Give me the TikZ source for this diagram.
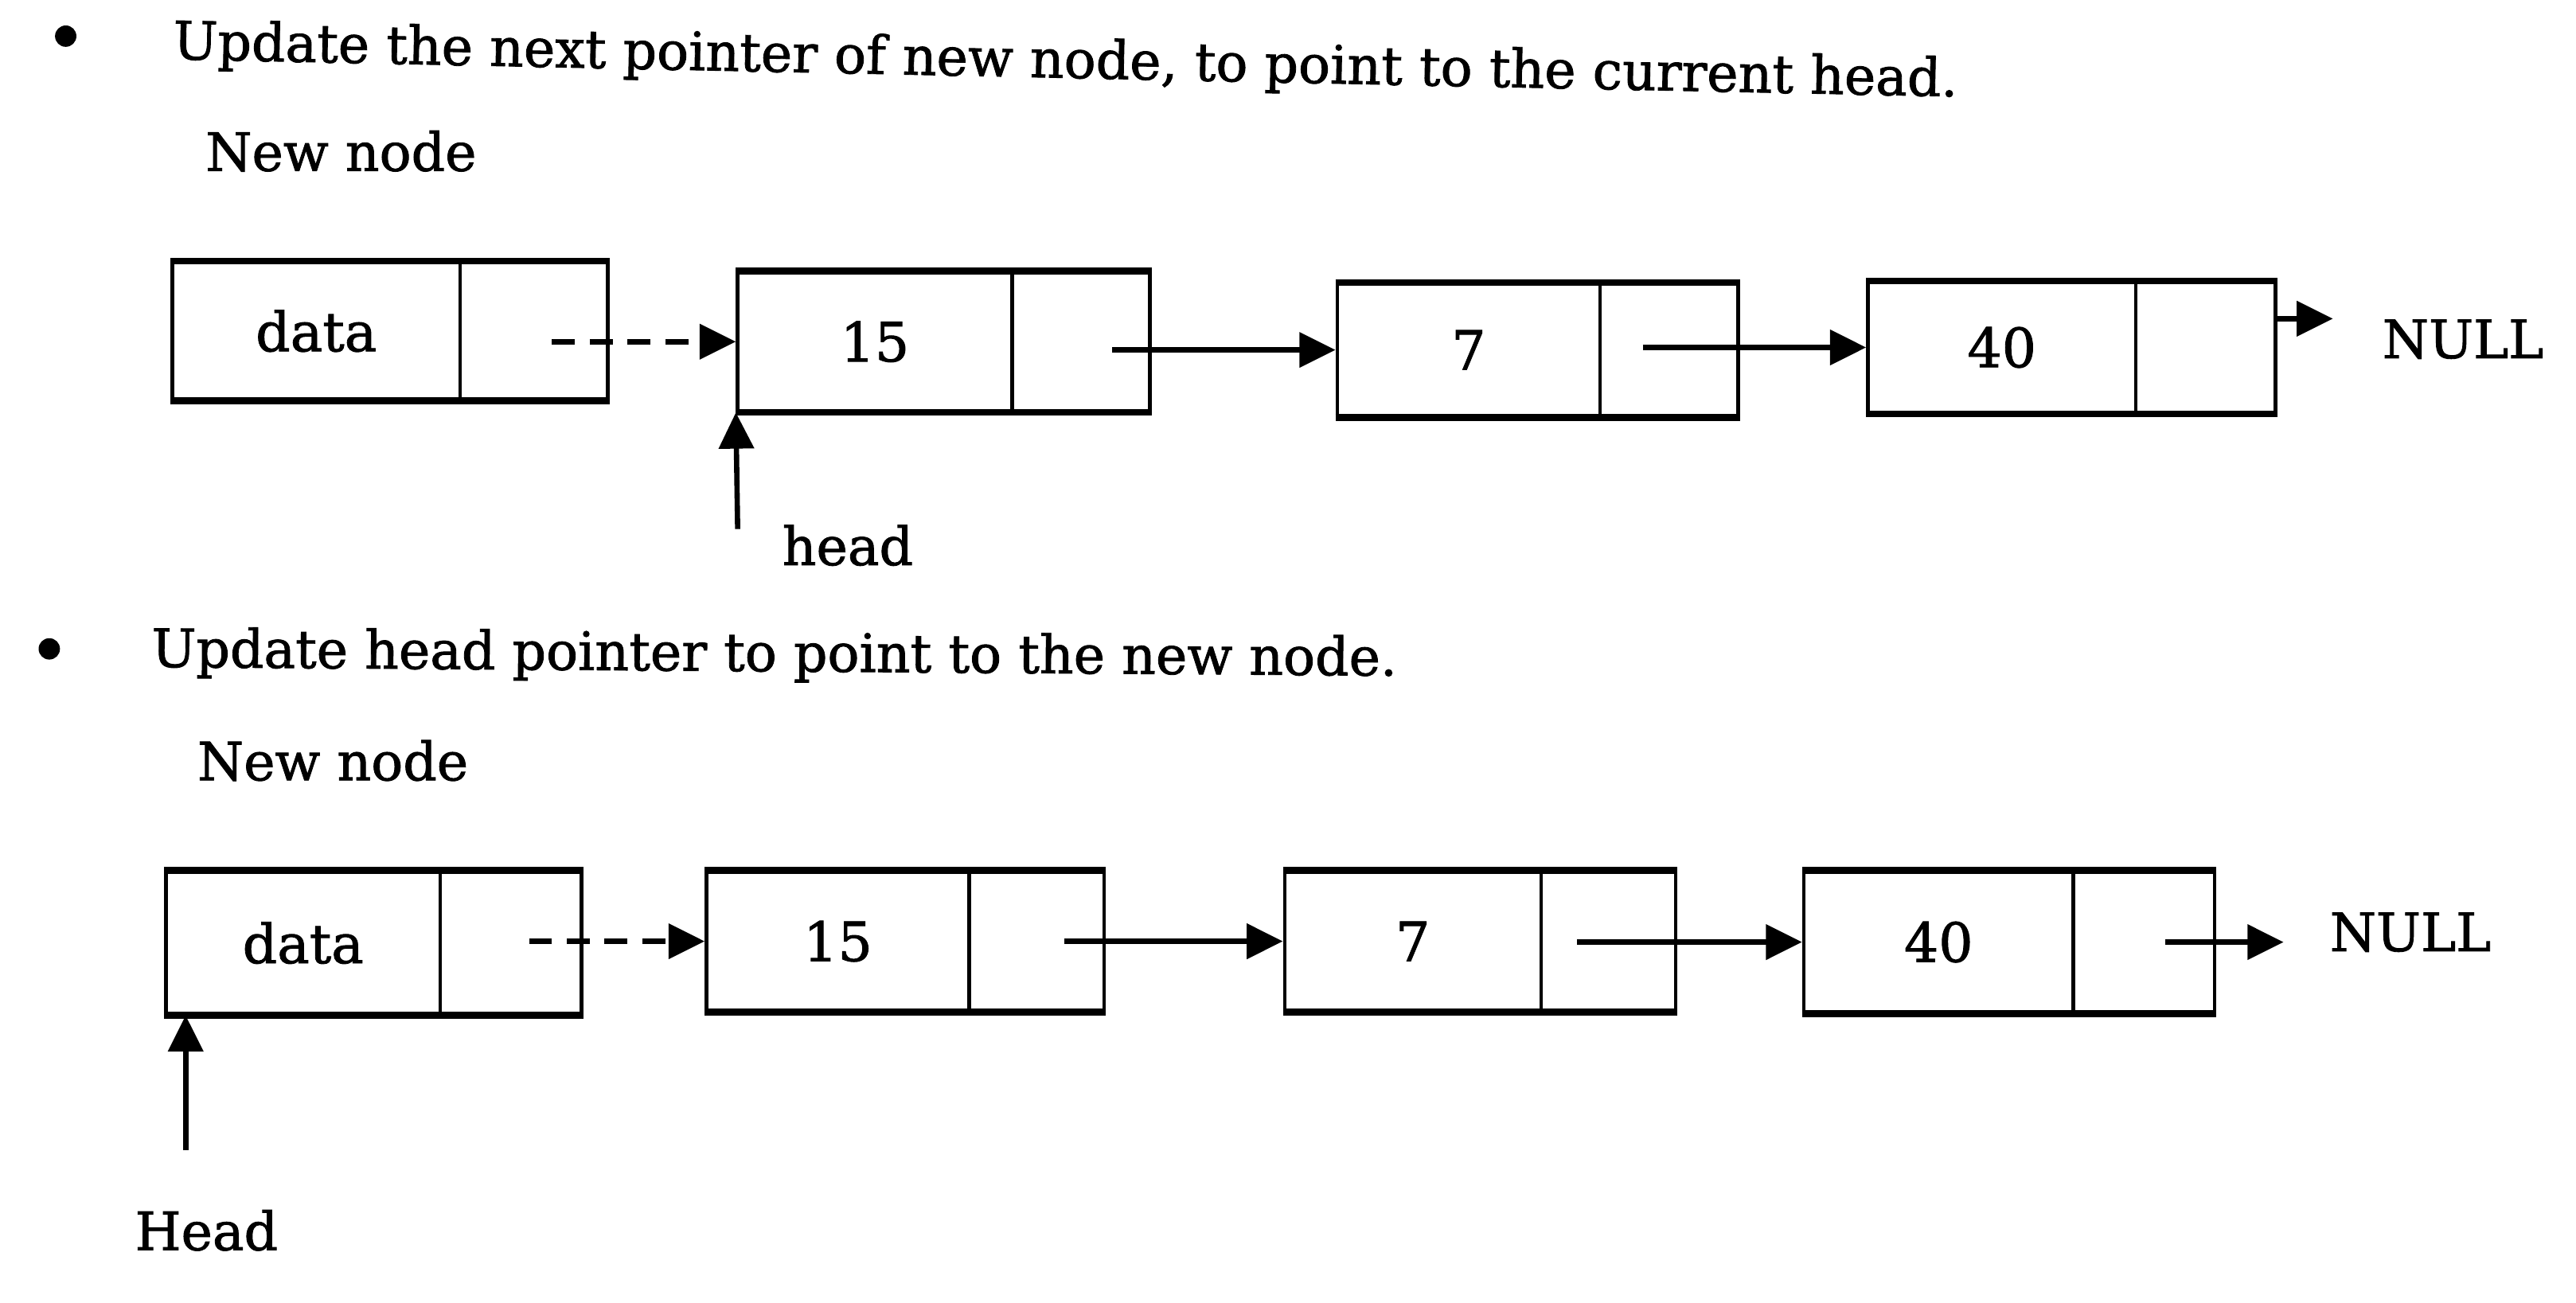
\documentclass[tikz,border=0pt]{standalone}
\usepackage{fontspec}
\setmainfont{DejaVu Serif}[FakeBold=1.3]
\usetikzlibrary{arrows.meta}
\begin{document}
\begin{tikzpicture}[x=1pt,y=-1pt,
  txt/.style={inner sep=0pt, font=\fontsize{32.2}{38}\selectfont},
  cell/.style={draw, line width=2.2pt, inner sep=0pt, font=\fontsize{33}{38}\selectfont},
  edge/.style={line width=4pt},
  arr/.style={line width=3.2pt, -{Triangle[length=22pt,width=21pt]}},
  darr/.style={arr, dash pattern=on 14pt off 9pt}]
\useasboundingbox (0,0) rectangle (1568,793);
\fill[white] (0,0) rectangle (1568,793);

% ---------- first part ----------
\fill (40,22) circle[radius=6.5];
\node[txt, anchor=base west, rotate=-1.2] (t1) at (105,36) {Update the next pointer of new node, to point to the current head.};
\node[txt, anchor=base west] (nn1) at (125,104) {New node};

\node[cell, minimum width=175pt, minimum height=83pt] (d0) at (192.5,201.5) {data};
\node[cell, minimum width=90pt,  minimum height=83pt] (p0) at (325,201.5) {};
\node[cell, minimum width=167pt, minimum height=84pt] (d1) at (532.5,208) {15};
\node[cell, minimum width=84pt,  minimum height=84pt] (p1) at (658,208) {};
\node[cell, minimum width=160pt, minimum height=80pt] (d2) at (894,213) {7};
\node[cell, minimum width=84pt,  minimum height=80pt] (p2) at (1016,213) {};
\node[cell, minimum width=163pt, minimum height=79pt] (d3) at (1218.5,211.5) {40};
\node[cell, minimum width=85pt,  minimum height=79pt] (p3) at (1342.5,211.5) {};
\foreach \a/\b in {d0/p0,d1/p1,d2/p2,d3/p3}{
  \draw[edge] (\a.north west) -- (\b.north east);
  \draw[edge] (\a.south west) -- (\b.south east);
}

\draw[darr] ([xshift=11pt]p0.center |- d1.west) -- (d1.west);
\draw[arr] ([xshift=19pt]p1.center |- d2.west) -- (d2.west);
\draw[arr] ([xshift=-16pt]p2.center |- d3.west) -- (d3.west);
\coordinate (n0) at (1420,194);
\draw[arr] (p3.east |- n0) -- (n0);
\node[txt, anchor=base west] (null1) at (1450,218) {NULL};

\coordinate (h0) at (449,322);
\draw[arr] (h0) -- (d1.south west);
\node[txt, anchor=base west] (hd1) at (476,344) {head};

% ---------- second part ----------
\fill (30,395) circle[radius=6.5];
\node[txt, anchor=base west, rotate=-0.4] (t2) at (92,406) {Update head pointer to point to the new node.};
\node[txt, anchor=base west] (nn2) at (120,475) {New node};

\node[cell, minimum width=167pt, minimum height=86pt] (e0) at (184.5,574) {data};
\node[cell, minimum width=86pt,  minimum height=86pt] (q0) at (311,574) {};
\node[cell, minimum width=160pt, minimum height=84pt] (e1) at (510,573) {15};
\node[cell, minimum width=82pt,  minimum height=84pt] (q1) at (631,573) {};
\node[cell, minimum width=156pt, minimum height=84pt] (e2) at (860,573) {7};
\node[cell, minimum width=82pt,  minimum height=84pt] (q2) at (979,573) {};
\node[cell, minimum width=164pt, minimum height=85pt] (e3) at (1180,573.5) {40};
\node[cell, minimum width=86pt,  minimum height=85pt] (q3) at (1305,573.5) {};
\foreach \a/\b in {e0/q0,e1/q1,e2/q2,e3/q3}{
  \draw[edge] (\a.north west) -- (\b.north east);
  \draw[edge] (\a.south west) -- (\b.south east);
}

\draw[darr] ([xshift=11pt]q0.center |- e1.west) -- (e1.west);
\draw[arr] ([xshift=17pt]q1.center |- e2.west) -- (e2.west);
\draw[arr] ([xshift=-19pt]q2.center |- e3.west) -- (e3.west);
\coordinate (n1) at (1390,573.5);
\draw[arr] ([xshift=13pt]q3.center) -- (n1);
\node[txt, anchor=base west] (null2) at (1418,579) {NULL};

\coordinate (h1) at (113,700);
\draw[arr] (h1) -- (h1 |- e0.south);
\node[txt, anchor=base west] (hd2) at (82,761) {Head};
\end{tikzpicture}
\end{document}
